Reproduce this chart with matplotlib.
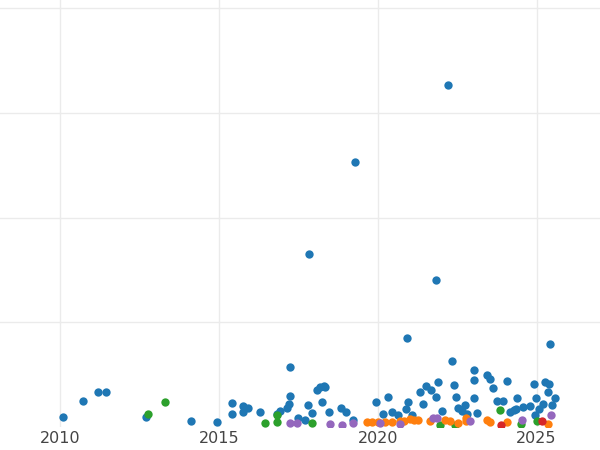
import matplotlib
matplotlib.use("Agg")
import matplotlib.pyplot as plt

blue_x = [2010.09, 2010.72, 2011.19, 2011.45, 2012.70, 2014.12, 2014.94, 2015.41, 2015.41, 2015.75,
          2015.91, 2015.75, 2016.29, 2016.82, 2016.92, 2017.14, 2017.20, 2017.23, 2017.23, 2017.48,
          2017.70, 2017.80, 2017.92, 2018.08, 2018.18, 2018.30, 2018.24, 2018.33, 2018.46, 2017.83,
          2018.84, 2018.99, 2019.21, 2019.28, 2019.94, 2020.16, 2020.31, 2020.44, 2020.63, 2020.88,
          2020.91, 2020.94, 2021.07, 2021.32, 2021.42, 2021.51, 2021.67, 2021.82, 2021.89, 2021.82,
          2022.01, 2022.20, 2022.33, 2022.39, 2022.45, 2022.52, 2022.64, 2022.74, 2022.80, 2023.02,
          2023.02, 2023.02, 2023.14, 2023.43, 2023.55, 2023.62, 2023.77, 2023.93, 2024.06, 2024.15,
          2024.28, 2024.40, 2024.34, 2024.56, 2024.78, 2024.91, 2024.97, 2025.09, 2025.28, 2025.35,
          2025.38, 2025.44, 2025.50, 2025.57, 2025.22, 2024.94]
blue_y = [0.10, 0.25, 0.33, 0.33, 0.10, 0.06, 0.05, 0.23, 0.12, 0.20,
          0.18, 0.14, 0.14, 0.12, 0.15, 0.18, 0.22, 0.30, 0.57, 0.09,
          0.07, 0.21, 0.13, 0.35, 0.38, 0.39, 0.24, 0.38, 0.14, 1.65,
          0.18, 0.14, 0.07, 2.53, 0.24, 0.12, 0.29, 0.14, 0.11, 0.17,
          0.85, 0.24, 0.11, 0.33, 0.22, 0.39, 0.35, 1.40, 0.43, 0.29,
          0.15, 3.27, 0.63, 0.40, 0.29, 0.18, 0.15, 0.21, 0.12, 0.54,
          0.45, 0.28, 0.13, 0.50, 0.46, 0.37, 0.25, 0.25, 0.44, 0.14,
          0.16, 0.28, 0.17, 0.19, 0.20, 0.41, 0.28, 0.17, 0.43, 0.33,
          0.41, 0.79, 0.21, 0.28, 0.22, 0.11]

green_x = [2012.77, 2013.30, 2016.45, 2016.82, 2016.82, 2017.92, 2021.95, 2022.42, 2023.84, 2024.50, 2025.03]
green_y = [0.12, 0.24, 0.04, 0.05, 0.11, 0.04, 0.02, 0.02, 0.16, 0.03, 0.06]

orange_x = [2019.65, 2019.81, 2020.00, 2020.22, 2020.44, 2020.69, 2020.82, 2021.01, 2021.13, 2021.26,
            2021.64, 2022.11, 2022.26, 2022.52, 2022.77, 2022.77, 2023.43, 2023.55, 2024.06, 2025.35]
orange_y = [0.05, 0.05, 0.05, 0.05, 0.05, 0.06, 0.06, 0.08, 0.07, 0.07,
            0.06, 0.07, 0.06, 0.04, 0.09, 0.06, 0.07, 0.05, 0.05, 0.03]

purple_x = [2017.23, 2017.45, 2018.49, 2018.87, 2019.21, 2020.06, 2020.69, 2021.73, 2021.86, 2022.89, 2024.53, 2025.47]
purple_y = [0.04, 0.04, 0.03, 0.02, 0.04, 0.04, 0.03, 0.09, 0.09, 0.06, 0.07, 0.11]

red_x = [2023.87, 2025.16]
red_y = [0.02, 0.06]

fig = plt.figure(figsize=(6, 4.5), dpi=100)
ax = fig.add_axes([0, 23 / 450, 1, 427 / 450])

for xs, ys, c in [(blue_x, blue_y, "#1f77b4"), (green_x, green_y, "#2ca02c"),
                  (orange_x, orange_y, "#ff7f0e"), (purple_x, purple_y, "#9467bd"),
                  (red_x, red_y, "#d62728")]:
    ax.scatter(xs, ys, s=36, color=c, zorder=3, linewidths=0)

ax.set_xlim(2008.1, 2027.0)
ax.set_ylim(0, 4.08)
ax.set_xticks([2010, 2015, 2020, 2025])
ax.set_yticks([1, 2, 3, 4])
ax.set_yticklabels([])
ax.tick_params(axis="y", length=0)
ax.tick_params(axis="x", length=0, labelsize=11.5, labelcolor="#444444", pad=3)
ax.grid(True, color="#ebebeb", linewidth=1)
for s in ax.spines.values():
    s.set_visible(False)

fig.savefig("out.png")
